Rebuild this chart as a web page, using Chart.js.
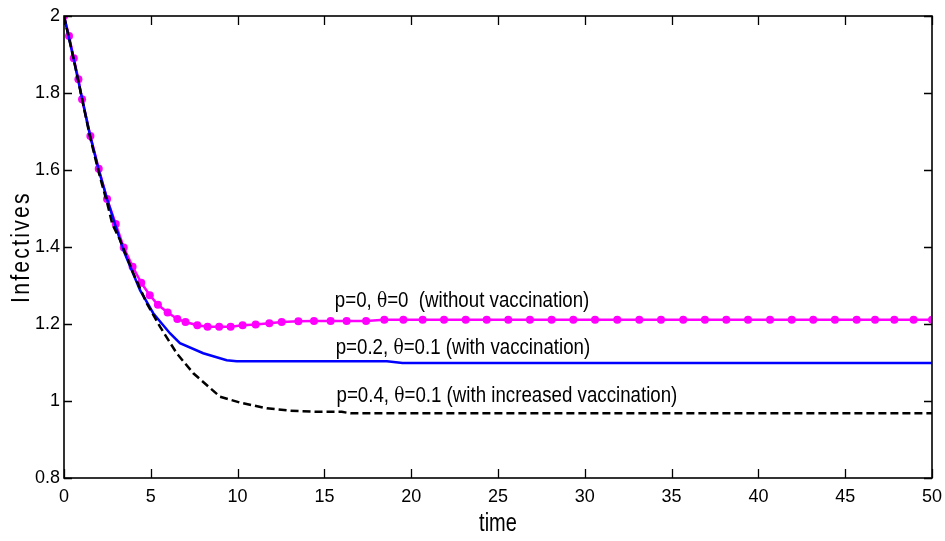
<!DOCTYPE html>
<html>
<head>
<meta charset="utf-8">
<script src="https://cdn.jsdelivr.net/npm/chart.js@4/dist/chart.umd.min.js"></script>
<style>
  body { margin: 0; background: #fff; }
  #wrap { width: 945px; height: 541px; }
</style>
</head>
<body>
<div id="wrap"><canvas id="myChart"></canvas></div>
<script>
// Infectives over time for three vaccination settings
const noVacT = [0, 0.29, 0.56, 0.83, 1.04, 1.52, 2.0, 2.48, 2.98, 3.44, 3.95, 4.45, 4.94, 5.41, 5.97, 6.53, 7.0, 7.68, 8.27, 8.94, 9.6, 10.29, 11.04, 11.83, 12.54, 13.5, 14.4, 15.36, 16.28, 17.4, 18.45, 19.55, 20.66, 21.89, 23.14, 24.35, 25.59, 26.84, 28.09, 29.34, 30.59, 31.87, 33.14, 34.39, 35.67, 36.92, 38.15, 39.4, 40.67, 41.92, 43.16, 44.41, 45.66, 46.72, 47.83, 48.94, 50];
const noVacI = [2.0, 1.948, 1.89, 1.836, 1.784, 1.688, 1.603, 1.525, 1.46, 1.399, 1.349, 1.307, 1.275, 1.25, 1.23, 1.213, 1.205, 1.197, 1.193, 1.193, 1.193, 1.197, 1.199, 1.202, 1.205, 1.207, 1.208, 1.208, 1.208, 1.208, 1.211, 1.211, 1.211, 1.211, 1.211, 1.211, 1.211, 1.211, 1.211, 1.211, 1.211, 1.211, 1.211, 1.211, 1.211, 1.211, 1.211, 1.211, 1.211, 1.211, 1.211, 1.211, 1.211, 1.211, 1.211, 1.211, 1.211];

const vacT = [0, 0.5, 1.0, 1.5, 2.0, 2.5, 2.98, 3.42, 4.38, 5.14, 6.1, 6.68, 8.02, 9.37, 9.95, 18.6, 19.5, 50];
const vacI = [2.0, 1.9, 1.795, 1.69, 1.6, 1.522, 1.453, 1.392, 1.288, 1.228, 1.176, 1.15, 1.124, 1.106, 1.103, 1.103, 1.099, 1.099];

const incVacT = [0, 0.5, 1.0, 1.5, 2.0, 2.5, 2.78, 3.23, 3.99, 4.76, 5.53, 6.49, 7.45, 8.99, 10.14, 11.68, 13.0, 14.55, 16.0, 16.5, 50];
const incVacI = [2.0, 1.9, 1.793, 1.686, 1.594, 1.512, 1.46, 1.418, 1.332, 1.254, 1.193, 1.124, 1.072, 1.011, 0.996, 0.981, 0.975, 0.972, 0.972, 0.968, 0.968];

const xTicks = [0, 5, 10, 15, 20, 25, 30, 35, 40, 45, 50];
const yTicks = [0.8, 1, 1.2, 1.4, 1.6, 1.8, 2];

// curve labels: [pre, theta part, post], anchored at (time, infectives)
const curveLabels = [
  { t: 15.6, v: 1.243, parts: ["p=0, ", "\u03b8", "=0  (without vaccination)"] },
  { t: 15.65, v: 1.123, parts: ["p=0.2, ", "\u03b8", "=0.1 (with vaccination)"] },
  { t: 15.7, v: 0.998, parts: ["p=0.4, ", "\u03b8", "=0.1 (with increased vaccination)"] },
];

const sansFont = "'Liberation Sans', Arial, sans-serif";
const squeeze = 0.85; // condensed look for the annotation text

function toPoints(ts, vs) {
  return ts.map((t, i) => ({ x: t, y: vs[i] }));
}

// Box around the plot, inward ticks, curve labels, axis titles
const framePlugin = {
  id: "frame",
  afterDraw(chart) {
    const ctx = chart.ctx;
    const a = chart.chartArea;
    const xs = chart.scales.x;
    const ys = chart.scales.y;
    ctx.save();
    ctx.strokeStyle = "#000";
    ctx.lineWidth = 1.3;
    ctx.beginPath();
    xTicks.forEach((v) => {
      const px = Math.round(xs.getPixelForValue(v)) + 0.5;
      ctx.moveTo(px, a.bottom); ctx.lineTo(px, a.bottom - 9);
      ctx.moveTo(px, a.top); ctx.lineTo(px, a.top + 9);
    });
    yTicks.forEach((v) => {
      const py = Math.round(ys.getPixelForValue(v)) + 0.5;
      ctx.moveTo(a.left, py); ctx.lineTo(a.left + 8, py);
      ctx.moveTo(a.right, py); ctx.lineTo(a.right - 8, py);
    });
    ctx.stroke();
    ctx.lineWidth = 1.6;
    ctx.strokeRect(a.left, a.top, a.right - a.left, a.bottom - a.top);

    // curve labels
    ctx.fillStyle = "#000";
    ctx.textBaseline = "alphabetic";
    ctx.textAlign = "left";
    curveLabels.forEach((lab) => {
      ctx.save();
      ctx.translate(xs.getPixelForValue(lab.t), ys.getPixelForValue(lab.v));
      ctx.scale(squeeze, 1);
      let x = 0;
      lab.parts.forEach((s, i) => {
        ctx.font = i === 1 ? "20px 'DejaVu Serif', serif" : "22px " + sansFont;
        ctx.fillText(s, x, 0);
        x += ctx.measureText(s).width;
      });
      ctx.restore();
    });

    // x axis title
    ctx.save();
    ctx.font = "25px " + sansFont;
    ctx.textAlign = "center";
    ctx.translate((a.left + a.right) / 2, 531);
    ctx.scale(0.8, 1);
    ctx.fillText("time", 0, 0);
    ctx.restore();

    // y axis title, letter spaced
    ctx.font = "25px " + sansFont;
    ctx.letterSpacing = "2.6px";
    ctx.textAlign = "center";
    ctx.textBaseline = "middle";
    ctx.translate(22, 247);
    ctx.rotate(-Math.PI / 2);
    ctx.scale(squeeze, 1);
    ctx.fillText("Infectives", 0, 0);
    ctx.restore();
  },
};

new Chart(document.getElementById("myChart"), {
  type: "line",
  data: {
    datasets: [
      {
        label: "p=0.4, theta=0.1",
        data: toPoints(incVacT, incVacI),
        borderColor: "#000",
        borderWidth: 2.5,
        borderDash: [8, 4],
        pointRadius: 0,
        tension: 0,
      },
      {
        label: "p=0.2, theta=0.1",
        data: toPoints(vacT, vacI),
        borderColor: "#0000ff",
        borderWidth: 2.5,
        pointRadius: 0,
        tension: 0,
      },
      {
        label: "p=0, theta=0",
        data: toPoints(noVacT, noVacI),
        borderColor: "#ff00ff",
        backgroundColor: "#ff00ff",
        borderWidth: 2.5,
        pointRadius: 4,
        pointBorderWidth: 0,
        tension: 0,
      },
    ],
  },
  options: {
    responsive: true,
    maintainAspectRatio: false,
    animation: false,
    layout: { padding: { top: 16, right: 13, left: 0, bottom: 0 } },
    plugins: {
      legend: { display: false },
      tooltip: { enabled: false },
    },
    scales: {
      x: {
        type: "linear",
        min: 0,
        max: 50,
        afterBuildTicks: (s) => { s.ticks = xTicks.map((v) => ({ value: v })); },
        afterFit: (s) => {
          s.height = 63;
          s.paddingLeft = 0;
          s.paddingRight = 0;
        },
        grid: { display: false, drawTicks: false },
        border: { display: false },
        ticks: { color: "#000", padding: 8, font: { family: sansFont, size: 18 } },
      },
      y: {
        min: 0.8,
        max: 2,
        afterBuildTicks: (s) => { s.ticks = yTicks.map((v) => ({ value: v })); },
        afterFit: (s) => { s.width = 64; },
        grid: { display: false, drawTicks: false },
        border: { display: false },
        ticks: {
          color: "#000",
          padding: 4,
          font: { family: sansFont, size: 18 },
          callback: (v) => String(Math.round(v * 10) / 10),
        },
      },
    },
  },
  plugins: [framePlugin],
});
</script>
</body>
</html>
